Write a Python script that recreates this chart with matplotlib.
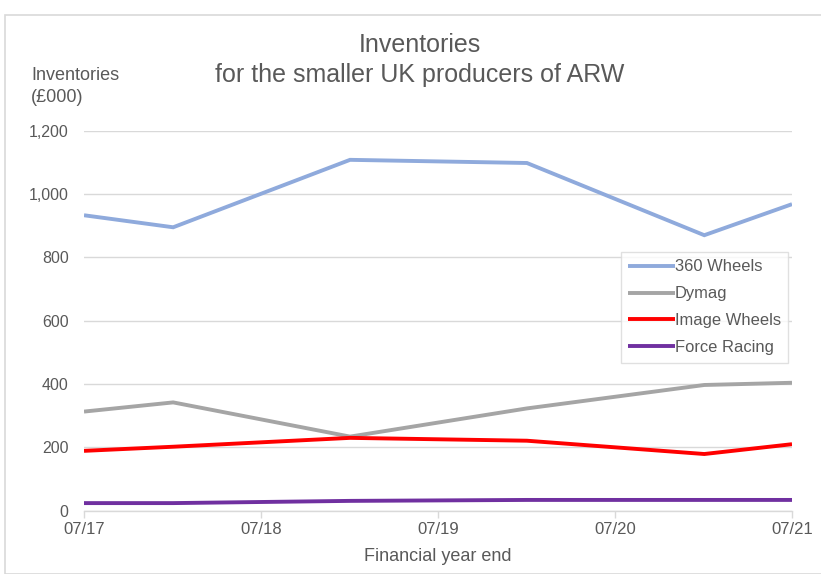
import matplotlib
matplotlib.use("Agg")
import matplotlib.pyplot as plt
from matplotlib.patches import Rectangle
import numpy as np

plt.rcParams['font.family'] = ['Liberation Sans', 'DejaVu Sans']

dates = np.array(['2017-07-01', '2018-01-01', '2019-01-01', '2020-01-01', '2021-01-01', '2021-07-01'],
                 dtype='datetime64[D]')
wheels360 = [933, 895, 1108, 1098, 870, 968]
dymag = [313, 342, 234, 323, 397, 404]
image_wheels = [189, 202, 230, 221, 179, 210]
force_racing = [24, 24, 31, 34, 34, 34]

tick_dates = np.array(['2017-07-01', '2018-07-01', '2019-07-01', '2020-07-01', '2021-07-01'],
                      dtype='datetime64[D]')
tick_labels = ['07/17', '07/18', '07/19', '07/20', '07/21']
yticks = [0, 200, 400, 600, 800, 1000, 1200]

series = [
    ('360 Wheels', wheels360, '#8FAADC'),
    ('Dymag', dymag, '#A5A5A5'),
    ('Image Wheels', image_wheels, '#FF0000'),
    ('Force Racing', force_racing, '#7030A0'),
]

W, H = 821, 574
fig = plt.figure(figsize=(W / 100, H / 100), dpi=100)
fig.patches.append(Rectangle((5 / W, 0), 1.0, 1 - 15 / H, transform=fig.transFigure,
                             fill=False, edgecolor='#D9D9D9', linewidth=1.2))

ax = fig.add_axes([84 / W, 1 - 510.7 / H, (792 - 84) / W, (510.7 - 130.7) / H])
for name, vals, col in series:
    ax.plot(dates, vals, color=col, linewidth=2.8, label=name, solid_capstyle='butt',
            solid_joinstyle='miter')

ax.set_xlim(tick_dates[0], tick_dates[-1])
ax.set_ylim(0, 1200)
ax.set_xticks(tick_dates)
ax.set_xticklabels(tick_labels)
ax.set_yticks(yticks)
ax.set_yticklabels([f'{v:,}' for v in yticks])

text_col = '#595959'
ax.tick_params(axis='y', length=0, pad=11, labelsize=11.5, labelcolor=text_col)
ax.tick_params(axis='x', length=5, width=1, color='#D9D9D9', pad=3, labelsize=12,
               labelcolor=text_col)
ax.grid(axis='y', color='#D9D9D9', linewidth=1)
ax.set_axisbelow(True)
for s in ['top', 'right', 'left']:
    ax.spines[s].set_visible(False)
ax.spines['bottom'].set_color('#D9D9D9')
ax.spines['bottom'].set_linewidth(1)

ax.set_xlabel('Financial year end', fontsize=13, color=text_col, labelpad=8)

fig.text(420 / W, 1 - 45 / H, 'Inventories', ha='center', va='center', fontsize=18,
         color=text_col)
fig.text(420 / W, 1 - 75 / H, 'for the smaller UK producers of ARW', ha='center',
         va='center', fontsize=18, color=text_col)
fig.text(31 / W, 1 - 75 / H, 'Inventories', ha='left', va='center', fontsize=13,
         color=text_col)
fig.text(31 / W, 1 - 98 / H, '(£000)', ha='left', va='center', fontsize=13,
         color=text_col)

leg = ax.legend(loc='upper left', bbox_to_anchor=((621 - 84) / (792 - 84),
                                                  (510.7 - 252) / (510.7 - 130.7)),
                frameon=True, fancybox=False, fontsize=11.9, handlelength=2.8,
                handletextpad=0.0, labelspacing=0.72, borderpad=0.45, borderaxespad=0)
leg.get_frame().set_edgecolor('#D9D9D9')
leg.get_frame().set_linewidth(1)
for t in leg.get_texts():
    t.set_color(text_col)

fig.savefig('out.png', dpi=100)
